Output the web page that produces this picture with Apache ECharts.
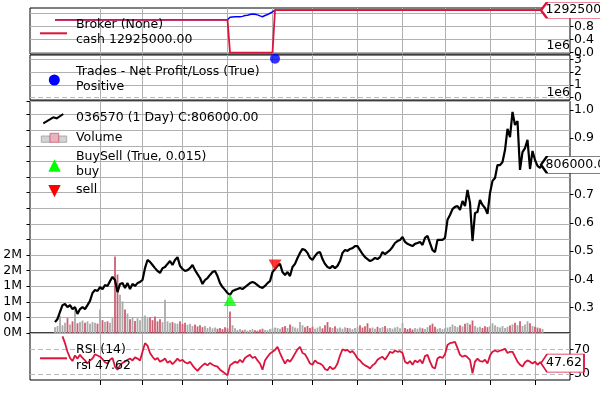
<!DOCTYPE html>
<html><head><meta charset="utf-8">
<script src="https://cdn.jsdelivr.net/npm/echarts@6/dist/echarts.min.js"></script>
<style>html,body{margin:0;padding:0;background:#fff}#c{width:600px;height:400px}</style>
</head><body><div id="c"></div>
<script>
// ---------- data ----------
const close = [
249000,260000,285000,309000,313000,302000,309000,295000,302000,278000,
295000,302000,295000,309000,324000,352000,363000,359000,373000,366000,
380000,377000,394000,409000,398000,355000,384000,387000,370000,387000,
366000,384000,377000,387000,391000,398000,440000,469000,462000,451000,
440000,430000,423000,440000,444000,455000,465000,451000,469000,479000,
448000,437000,430000,433000,440000,451000,433000,419000,405000,384000,
398000,405000,416000,426000,430000,412000,387000,373000,363000,352000,
345000,359000,363000,366000,370000,366000,373000,380000,387000,391000,
387000,380000,373000,370000,377000,387000,394000,426000,437000,448000,
455000,426000,416000,426000,412000,444000,455000,476000,494000,508000,
504000,494000,476000,469000,483000,494000,497000,472000,455000,444000,
440000,448000,440000,448000,465000,494000,504000,501000,508000,511000,
518000,518000,504000,490000,479000,472000,465000,469000,476000,472000,
479000,497000,490000,497000,504000,515000,529000,536000,540000,550000,
533000,526000,522000,518000,526000,529000,533000,522000,547000,554000,
529000,504000,497000,540000,540000,540000,547000,611000,628000,649000,
657000,660000,646000,678000,660000,717000,671000,536000,635000,639000,
681000,664000,653000,632000,706000,749000,759000,805000,805000,816000,
858000,933000,904000,993000,947000,961000,788000,851000,865000,894000,
791000,855000,823000,802000,795000,806000];

// volume in thousands of shares
const volumeK = [
150,180,440,200,260,380,220,300,600,250,280,
320,260,300,240,280,260,240,600,330,280,300,260,380,
1960,1500,980,810,600,500,350,400,310,380,330,420,
450,380,400,330,420,300,350,280,850,300,260,280,250,240,300,
230,260,210,240,180,220,170,200,150,180,130,160,120,140,110,130,100,150,120,
550,
200,120,80,100,70,90,60,80,100,70,60,90,110,80,70,100,120,140,130,110,
150,180,130,220,170,140,120,280,200,150,180,130,160,110,140,170,120,200,280,150,130,170,120,140,110,150,130,120,100,130,
150,200,140,170,250,120,140,110,160,130,150,180,120,130,110,140,160,120,250,130,100,120,90,130,110,140,120,100,150,200,
240,160,110,130,100,120,140,160,220,180,150,200,170,240,260,220,320,180,140,160,
130,170,150,180,250,200,160,140,180,130,160,190,220,260,200,300,180,220,300,250,180,160,140,120,100];

const rsiStart = 3;
const rsi = [
91,80,66,56,51,60,55,61,56,52,
47,52,55,62,60,58,54,49,47,53,
56,42,37,44,48,50,53,55,52,57,
55,52,66,80,76,64,58,53,56,50,
52,55,48,51,46,50,55,51,53,49,
47,50,44,39,35,40,44,47,44,48,
45,43,42,37,34,31,28,44,47,50,
48,53,49,56,59,61,56,58,52,47,
37,52,58,63,66,69,74,64,55,47,
53,50,56,63,70,74,64,62,55,47,
45,52,48,47,44,38,36,42,38,40,
47,60,70,68,69,65,67,62,55,52,
47,44,42,39,44,47,53,56,58,53,
59,66,64,68,66,67,64,50,47,51,
45,52,49,53,47,59,61,50,41,39,
55,58,56,62,77,80,81,82,72,61,
58,60,57,53,31,50,55,51,50,53,
47,60,66,68,66,68,69,71,64,66,
66,58,50,45,42,49,52,50,47,50,
45,49,47.62];

// broker: cash as [value, number of bars]
const cashRuns = [[10000000, 70], [0, 18], [12925000, 108]];
const positionStart = 70;
const valueInPosition = [10770000,10850000,10900000,10920000,10950000,11050000,11300000,11400000,11600000,
  11750000,11700000,11500000,11200000,10950000,11300000,11600000,12000000,12450000];

const buyBars = [70], buyMarks = [327000];
const sellBars = [88], sellMarks = [451000];
const tradeBars = [88], tradePnl = [3050000];

const monthTicks = [18, 35, 51, 69, 87, 103, 121, 139, 156, 174, 192];
const brokerTicks = [0, 4000000, 8000000, 12000000];
const tradeTicks = [0, 1000000, 2000000, 3000000];
const priceTicks = [300000, 400000, 500000, 600000, 700000, 800000, 900000, 1000000];
const rsiLevels = [30, 70];
const volTickLabels = ['0M', '0M', '1M', '1M', '2M', '2M'];

// ---------- build ----------
const FONT = 'DejaVu Sans', FS = 12.5;
const LEAD = 10, SLOTS = 217;
const N = close.length;
const slots = Array.from({length: SLOTS}, (_, k) => String(k));
const tickSlots = new Set(monthTicks.map(i => i + LEAD));
const at = i => i + LEAD;
const pairs = (arr, start) => arr.map((v, j) => [at(start + j), v]);

const cash = [];
cashRuns.forEach(([v, n]) => { for (let k = 0; k < n; k++) cash.push(v); });
const value = cash.slice();
valueInPosition.forEach((v, j) => { value[positionStart + j] = v; });

const lastCash = cash[cash.length - 1];
const lastClose = close[N - 1];
const lastRsi = rsi[rsi.length - 1];

const volData = volumeK.map((v, i) => ({
  value: [at(i), v],
  itemStyle: { color: (i > 0 && close[i] < close[i - 1]) ? '#cc6073' : '#aaaaaa' }
}));

const GRID = '#b0b0b0';
const gridBox = {show: true, borderColor: '#000', borderWidth: 1, containLabel: false, outerBoundsMode: 'none'};
const grids = [
  Object.assign({left: 30, right: 30, top: 8, height: 46}, gridBox),
  Object.assign({left: 30, right: 30, top: 55, height: 45}, gridBox),
  Object.assign({left: 30, right: 30, top: 101, height: 232}, gridBox),
  Object.assign({left: 30, right: 30, top: 333, height: 47}, gridBox),
  // overlay of the trades panel, only used to carry the alternate tick labels
  {left: 30, right: 30, top: 55, height: 45, show: false, containLabel: false, outerBoundsMode: 'none'}
];

const xAxes = [0, 1, 2, 3].map(g => ({
  type: 'category', gridIndex: g, data: slots, boundaryGap: false,
  axisLine: {show: false}, axisLabel: {show: false},
  axisTick: {show: g === 3, interval: (idx) => tickSlots.has(idx), length: 5, lineStyle: {color: '#000'}},
  splitLine: {show: true, interval: (idx) => tickSlots.has(idx), lineStyle: {color: GRID, width: 1}}
}));
xAxes.push({type: 'category', gridIndex: 4, data: slots, boundaryGap: false,
  axisLine: {show: false}, axisLabel: {show: false}, axisTick: {show: false}, splitLine: {show: false}});

const lbl = {fontFamily: FONT, fontSize: FS, color: '#000', margin: 4, hideOverlap: false};
const tickStyle = {length: 3.5, lineStyle: {color: '#000'}};
const nameStyle = {fontFamily: FONT, fontSize: FS, color: '#000', align: 'right', verticalAlign: 'middle'};
const tradeFmt = v => (v / 1e6).toFixed(0);
const yAxes = [
  {type: 'value', gridIndex: 0, position: 'right', min: -427000, max: 13603000,
   axisLine: {show: false},
   axisTick: Object.assign({show: true, customValues: brokerTicks}, tickStyle),
   axisLabel: Object.assign({customValues: brokerTicks, showMinLabel: true, showMaxLabel: true, formatter: v => (v / 1e7).toFixed(1)}, lbl),
   splitLine: {show: true, lineStyle: {color: GRID}}},
  {type: 'value', gridIndex: 1, position: 'right', min: -180000, max: 3336000,
   axisLine: {show: false},
   axisTick: Object.assign({show: true, customValues: tradeTicks}, tickStyle),
   axisLabel: Object.assign({customValues: tradeTicks.filter((_, k) => k % 2 === 0), showMinLabel: true, showMaxLabel: true, formatter: tradeFmt}, lbl),
   splitLine: {show: true, lineStyle: {color: ['rgba(0,0,0,0)', GRID, GRID, GRID]}},
   name: '1e6', nameLocation: 'end', nameGap: 9.5, nameTextStyle: nameStyle},
  {type: 'value', gridIndex: 2, position: 'right', min: 210330, max: 1031870,
   axisLine: {show: false},
   axisTick: Object.assign({show: true, customValues: priceTicks}, tickStyle),
   axisLabel: Object.assign({customValues: priceTicks, showMinLabel: true, showMaxLabel: true, formatter: v => (v / 1e6).toFixed(1)}, lbl),
   splitLine: {show: false},
   name: '1e6', nameLocation: 'end', nameGap: 8.3, nameTextStyle: nameStyle},
  {type: 'value', gridIndex: 2, position: 'left', min: 0, max: 5949, interval: 400,
   axisLine: {show: false},
   axisTick: Object.assign({show: true}, tickStyle),
   axisLabel: {fontFamily: FONT, fontSize: FS, color: '#000', margin: 8, showMinLabel: true, hideOverlap: false,
     formatter: v => { const k = Math.round(v / 400); return (Math.abs(v - k * 400) < 1 && k < volTickLabels.length) ? volTickLabels[k] : ''; }},
   splitLine: {show: true, lineStyle: {color: GRID}}},
  {type: 'value', gridIndex: 3, position: 'right', min: 20.3, max: 96.4,
   axisLine: {show: false},
   axisTick: Object.assign({show: true, customValues: rsiLevels}, tickStyle),
   axisLabel: Object.assign({customValues: rsiLevels, showMinLabel: true, showMaxLabel: true, formatter: v => String(v)}, lbl),
   splitLine: {show: true, lineStyle: {color: '#b8b8b8', type: [5, 3], width: 1.2}}},
  {type: 'value', gridIndex: 4, position: 'right', min: -180000, max: 3336000,
   axisLine: {show: false}, axisTick: {show: false, customValues: tradeTicks.filter((_, k) => k % 2 === 1)},
   axisLabel: Object.assign({customValues: tradeTicks.filter((_, k) => k % 2 === 1), showMinLabel: true, showMaxLabel: true, formatter: tradeFmt}, lbl),
   splitLine: {show: false}}
];

function tag(slotIdx, val, text, color, w, h) {
  return {
    silent: true, animation: false,
    symbol: `path://M0,${h / 2} L6,0 L${w},0 L${w},${h} L6,${h} Z`,
    symbolSize: [w, h], symbolOffset: [w / 2 - 1.5, 0],
    itemStyle: {color: '#fff', borderColor: color, borderWidth: 1.2},
    label: {show: true, position: 'insideLeft', distance: 6, formatter: text, color: '#000', fontFamily: FONT, fontSize: FS},
    data: [{coord: [slotIdx, val]}]
  };
}

const dashed = {color: '#b8b8b8', type: [5, 3], width: 1.2};

const series = [
  {type: 'line', name: 'value', xAxisIndex: 0, yAxisIndex: 0, data: pairs(value, 0), symbol: 'none',
   lineStyle: {color: '#0000ff', width: 1.5}, z: 2},
  {type: 'line', name: 'cash', xAxisIndex: 0, yAxisIndex: 0, data: pairs(cash, 0), symbol: 'none',
   lineStyle: {color: '#dc143c', width: 1.8}, z: 3,
   markPoint: tag(at(N - 1), lastCash, lastCash.toFixed(2), '#dc143c', 100, 16)},
  {type: 'scatter', name: 'Positive', xAxisIndex: 1, yAxisIndex: 1,
   data: tradeBars.map((b, j) => [at(b), tradePnl[j]]), symbol: 'circle', symbolSize: 10,
   itemStyle: {color: '#0000ff'},
   markLine: {silent: true, symbol: ['none', 'none'], label: {show: false}, lineStyle: dashed, data: [{yAxis: 0}]}},
  {type: 'bar', name: 'Volume', xAxisIndex: 2, yAxisIndex: 3, data: volData, barWidth: 1.8, z: 1},
  {type: 'line', name: 'close', xAxisIndex: 2, yAxisIndex: 2, data: pairs(close, 0), symbol: 'none',
   lineStyle: {color: '#000', width: 2.2}, z: 3,
   markPoint: tag(at(N - 1), lastClose, lastClose.toFixed(2), '#000', 100, 17)},
  {type: 'scatter', name: 'buy', xAxisIndex: 2, yAxisIndex: 2,
   data: buyBars.map((b, j) => [at(b), buyMarks[j]]), symbol: 'triangle', symbolSize: [13, 12],
   itemStyle: {color: '#00ff00'}, z: 4},
  {type: 'scatter', name: 'sell', xAxisIndex: 2, yAxisIndex: 2,
   data: sellBars.map((b, j) => [at(b), sellMarks[j]]), symbol: 'triangle', symbolSize: [13, 11], symbolRotate: 180,
   itemStyle: {color: '#ff0000'}, z: 4},
  {type: 'line', name: 'rsi', xAxisIndex: 3, yAxisIndex: 4, data: pairs(rsi, rsiStart), symbol: 'none',
   lineStyle: {color: '#dc143c', width: 1.8}, z: 3,
   markPoint: tag(at(rsiStart + rsi.length - 1), lastRsi, lastRsi.toFixed(2), '#dc143c', 43, 18)},
  // empty carrier series for the overlay axis
  {type: 'line', name: 'overlay', xAxisIndex: 4, yAxisIndex: 5, data: [], symbol: 'none', silent: true}
];

const txt = (x, y, s) => ({type: 'text', x: x, y: y, z: 100, silent: true,
  style: {text: s, fontFamily: FONT, fontSize: FS, fill: '#000', verticalAlign: 'middle', align: 'left'}});

const graphics = [
  {type: 'line', z: 100, shape: {x1: 40, y1: 33.3, x2: 67, y2: 33.3}, style: {stroke: '#dc143c', lineWidth: 2}},
  txt(76, 24.7, 'Broker (None)'),
  txt(76, 39.7, 'cash ' + lastCash.toFixed(2)),
  {type: 'circle', z: 100, shape: {cx: 54.3, cy: 80, r: 5.5}, style: {fill: '#0000ff'}},
  txt(76, 71.3, 'Trades - Net Profit/Loss (True)'),
  txt(76, 86.7, 'Positive'),
  {type: 'polyline', z: 100, shape: {points: [[43.3, 123.3], [53.3, 117.3], [56.7, 118.3], [63.3, 114]]}, style: {stroke: '#000', lineWidth: 2, fill: null}},
  txt(76, 117.3, '036570 (1 Day) C:' + lastClose.toFixed(2)),
  {type: 'rect', z: 100, shape: {x: 41.3, y: 136, width: 8.7, height: 6.3}, style: {fill: '#d3d3d3', stroke: '#a0a0a0', lineWidth: 0.8}},
  {type: 'rect', z: 101, shape: {x: 50, y: 133.3, width: 8.7, height: 9}, style: {fill: '#e7b3bd', stroke: '#cc6073', lineWidth: 0.8}},
  {type: 'rect', z: 100, shape: {x: 58.7, y: 136, width: 8, height: 6.3}, style: {fill: '#d3d3d3', stroke: '#a0a0a0', lineWidth: 0.8}},
  txt(76, 137.7, 'Volume'),
  txt(76, 156.7, 'BuySell (True, 0.015)'),
  txt(76, 171.7, 'buy'),
  {type: 'polygon', z: 100, shape: {points: [[48.3, 171.7], [54.5, 159.3], [60.7, 171.7]]}, style: {fill: '#00ff00'}},
  {type: 'polygon', z: 100, shape: {points: [[48.3, 185], [60.7, 185], [54.5, 197.3]]}, style: {fill: '#ff0000'}},
  txt(76, 190, 'sell'),
  {type: 'line', z: 100, shape: {x1: 40, y1: 358.3, x2: 67, y2: 358.3}, style: {stroke: '#dc143c', lineWidth: 2}},
  txt(76, 350, 'RSI (14)'),
  txt(76, 365.7, 'rsi ' + lastRsi.toFixed(2))
];

const chart = echarts.init(document.getElementById('c'), null, {renderer: 'canvas'});
chart.setOption({
  animation: false,
  backgroundColor: '#fff',
  textStyle: {fontFamily: FONT},
  grid: grids, xAxis: xAxes, yAxis: yAxes, series: series, graphic: graphics
});
</script></body></html>
